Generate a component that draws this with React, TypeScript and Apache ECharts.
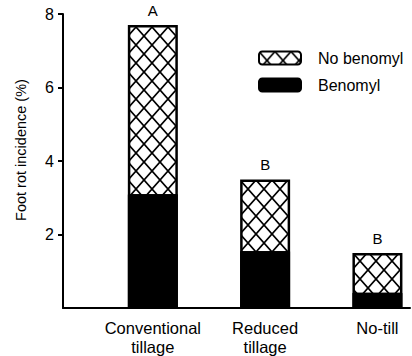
import React, { useEffect, useRef } from "react";
import * as echarts from "echarts";

const categories = ["Conventional\ntillage", "Reduced\ntillage", "No-till"];
const categoryPositions = [1, 2, 3];
const benomyl = [3.1, 1.55, 0.42];
const totalNoBenomyl = [7.7, 3.5, 1.5];
const letters = ["A", "B", "B"];
const yTicks = [0, 2, 4, 6, 8];

const FONT = "'Liberation Sans', Arial, Helvetica, sans-serif";

function makeHatch(): HTMLCanvasElement {
  const c = document.createElement("canvas");
  c.width = 16;
  c.height = 18;
  const ctx = c.getContext("2d")!;
  ctx.fillStyle = "#fff";
  ctx.fillRect(0, 0, 16, 18);
  ctx.strokeStyle = "#000";
  ctx.lineWidth = 1.7;
  ctx.beginPath();
  ctx.moveTo(0, 0);
  ctx.lineTo(16, 18);
  ctx.moveTo(16, 0);
  ctx.lineTo(0, 18);
  ctx.stroke();
  return c;
}

export default function App() {
  const ref = useRef<HTMLDivElement>(null);
  useEffect(() => {
    if (!ref.current) return;
    const chart = echarts.init(ref.current, undefined, { renderer: "svg" });
    const hatch = {
      image: makeHatch(),
      repeat: "repeat",
      imageWidth: 16,
      imageHeight: 18,
    };
    chart.setOption({
      animation: false,
      backgroundColor: "#fff",
      textStyle: { fontFamily: FONT, color: "#000" },
      grid: { left: 63, right: 2, top: 14, bottom: 46, containLabel: false },
      legend: {
        orient: "vertical",
        left: 258,
        top: 50,
        padding: 0,
        itemWidth: 42,
        itemHeight: 13,
        itemGap: 11,
        data: ["No benomyl", "Benomyl"],
        textStyle: { fontSize: 16, color: "#000", fontFamily: FONT, padding: [0, 0, 0, 12] },
      },
      xAxis: {
        type: "value",
        min: 0.2,
        max: 3.29,
        splitLine: { show: false },
        axisTick: { show: false },
        axisLine: { show: true, lineStyle: { color: "#000", width: 2 } },
        axisLabel: {
          customValues: categoryPositions,
          formatter: (v: number) => categories[Math.round(v) - 1] ?? "",
          fontSize: 16.5,
          lineHeight: 19,
          color: "#000",
          margin: 10,
          fontFamily: FONT,
        },
      },
      yAxis: {
        type: "value",
        min: yTicks[0],
        max: yTicks[yTicks.length - 1],
        interval: 2,
        name: "Foot rot incidence (%)",
        nameLocation: "middle",
        nameGap: 35,
        nameTextStyle: { fontSize: 14.5, color: "#000", fontFamily: FONT, padding: [0, 0, 0, 22] },
        splitLine: { show: false },
        axisLine: { show: true, lineStyle: { color: "#000", width: 2 } },
        axisTick: { show: true, inside: false, length: 5, lineStyle: { color: "#000", width: 2 } },
        axisLabel: {
          showMinLabel: false,
          fontSize: 16,
          color: "#000",
          margin: 9,
          fontFamily: FONT,
        },
      },
      series: [
        {
          name: "No benomyl",
          type: "bar",
          barWidth: 50,
          barGap: "-100%",
          data: categoryPositions.map((x, i) => [x, totalNoBenomyl[i]]),
          itemStyle: { color: hatch, borderColor: "#000", borderWidth: 2.5 },
          label: {
            show: true,
            position: "top",
            distance: 7,
            formatter: (p: any) => letters[p.dataIndex],
            fontSize: 15,
            color: "#000",
            fontFamily: FONT,
          },
        },
        {
          name: "Benomyl",
          type: "bar",
          barWidth: 50,
          barGap: "-100%",
          data: categoryPositions.map((x, i) => [x, benomyl[i]]),
          itemStyle: { color: "#000", borderColor: "#000", borderWidth: 1 },
        },
      ],
    });
    return () => chart.dispose();
  }, []);
  return <div ref={ref} style={{ width: 412, height: 356, position: "absolute", left: 0, top: 0 }} />;
}
